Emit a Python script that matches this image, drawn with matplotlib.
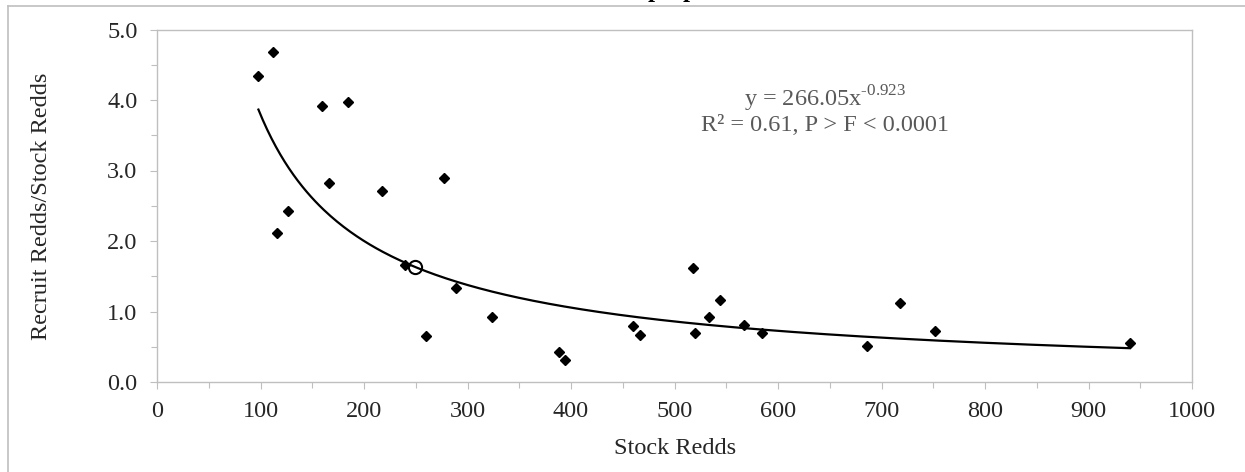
import numpy as np
import matplotlib
matplotlib.use('Agg')
import matplotlib.pyplot as plt
from matplotlib.lines import Line2D
from matplotlib.ticker import MultipleLocator, FormatStrFormatter

plt.rcParams['font.family'] = ['Liberation Serif', 'DejaVu Serif']

# observed stock/recruit ratios
stock_redds = [98, 112, 116, 127, 159, 166, 185, 217, 240, 260, 277, 289, 324,
               388, 394, 460, 467, 518, 520, 533, 544, 567, 585, 686, 718, 752, 940]
recruit_ratio = [4.34, 4.68, 2.11, 2.42, 3.92, 2.82, 3.97, 2.71, 1.66, 0.65, 2.89, 1.34, 0.92,
                 0.43, 0.31, 0.80, 0.67, 1.61, 0.69, 0.92, 1.17, 0.81, 0.70, 0.51, 1.12, 0.72, 0.56]

# highlighted point (open circle)
highlight_x = [249]
highlight_y = [1.63]

# power trendline from the chart label
fit_a = 266.05
fit_b = -0.923
fit_range = (98, 940)

eq_text = 'y = 266.05x$^{\\mathregular{\u20100.923}}$\nR² = 0.61, P > F < 0.0001'

W, H = 1245, 472
fig = plt.figure(figsize=(W / 100, H / 100), dpi=100)
fig.patch.set_facecolor('white')

# plot area in pixel coords
left, right, top, bottom = 157, 1192, 29.5, 382
ax = fig.add_axes([left / W, 1 - bottom / H, (right - left) / W, (bottom - top) / H])

grey = '#BFBFBF'
txt = '#262626'

xs = np.linspace(fit_range[0], fit_range[1], 400)
ax.plot(xs, fit_a * xs ** fit_b, color='black', lw=1.6, zorder=2)
ax.plot(stock_redds, recruit_ratio, 'D', color='black', markersize=5.2, zorder=3)
ax.plot(highlight_x, highlight_y, 'o', mfc='none', mec='black', mew=1.5,
        markersize=9.5, zorder=4)

ax.set_xlim(0, 1000)
ax.set_ylim(0, 5)
ax.xaxis.set_major_locator(MultipleLocator(100))
ax.xaxis.set_minor_locator(MultipleLocator(50))
ax.yaxis.set_major_locator(MultipleLocator(1))
ax.yaxis.set_minor_locator(MultipleLocator(0.5))
ax.yaxis.set_major_formatter(FormatStrFormatter('%.1f'))

for s in ax.spines.values():
    s.set_color(grey)
    s.set_linewidth(1.0)

ax.tick_params(which='major', direction='out', length=5, width=0.8, color=grey,
               labelsize=17.5, labelcolor=txt)
ax.tick_params(which='minor', direction='out', length=4, width=0.8, color=grey)
ax.tick_params(axis='x', which='major', pad=9)
ax.tick_params(axis='y', which='major', pad=9)
ax.tick_params(top=False, right=False, which='both')

ax.text(645, 3.86, eq_text, ha='center', va='center', fontsize=17.5,
        color='#595959', linespacing=1.1)

fig.text(675 / W, 1 - 449 / H, 'Stock Redds', ha='center', va='center',
         fontsize=17.5, color=txt)
fig.text(42 / W, 1 - 206 / H, 'Recruit Redds/Stock Redds', ha='center', va='center',
         rotation=90, fontsize=17.5, color=txt)

# outer chart frame (runs off the right and bottom of the image)
fig.add_artist(Line2D([7.5 / W, 7.5 / W], [0, 1 - 5.5 / H], transform=fig.transFigure,
                      color=grey, lw=1.2))
fig.add_artist(Line2D([7.5 / W, 1], [1 - 5.5 / H, 1 - 5.5 / H], transform=fig.transFigure,
                      color=grey, lw=1.2))

# clipped title above the frame: only descenders show, as in the source crop
for px in (655, 690):
    fig.text(px / W, 1 + 2.5 / H, 'p', ha='center', va='baseline', fontsize=18,
             fontweight='bold', color='black')

fig.savefig('out.png', dpi=100)
